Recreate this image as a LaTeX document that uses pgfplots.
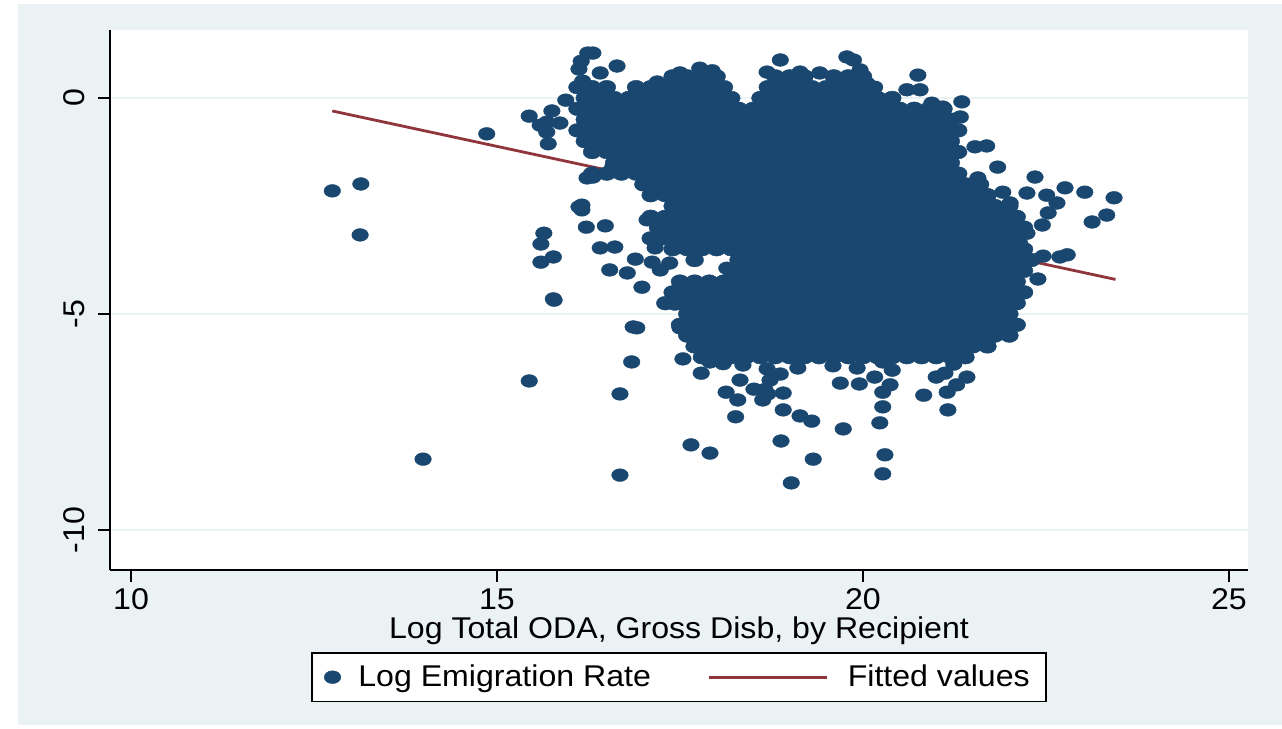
\documentclass[border=0pt]{standalone}
\usepackage{pgfplots}
\pgfplotsset{compat=1.18}
\usepackage{fontspec}
\setmainfont{Liberation Sans}[FakeStretch=1.07]
\definecolor{bgc}{HTML}{EAF2F3}
\definecolor{stnavy}{HTML}{1A476F}
\definecolor{stmaroon}{HTML}{90353B}
\pgfplotsset{
  dotleg/.style={legend image code/.code={\draw[##1] plot coordinates {(0pt,0pt)};}},
  lineleg/.style={legend image code/.code={\draw[##1] (0pt,0pt) -- (59pt,0pt);}},
  stdot/.style={only marks, mark=*, color=stnavy, mark size=3.2pt, mark options={xscale=1.3, fill=stnavy, draw=stnavy, line width=0.2pt}},
  stcore/.style={only marks, mark=*, color=stnavy, mark size=3.45pt, mark options={xscale=1.3, fill=stnavy, draw=stnavy, line width=0.2pt}},
}
\begin{document}
\begin{tikzpicture}
\path (0,0) rectangle (641pt,364.5pt);
\fill[bgc] (9pt,2pt) rectangle (641pt,362.5pt);
\begin{axis}[
 at={(55pt,79.5pt)}, anchor=south west,
 scale only axis, width=569pt, height=270pt,
 xmin=9.713, xmax=25.26, ymin=-10.926, ymax=1.574,
 axis background/.style={fill=white},
 axis x line*=bottom, axis y line*=left,
 axis line style={line width=0.75pt, black},
 xtick={10,15,20,25}, ytick={-10,-5,0},
 tick align=outside, major tick length=6pt,
 tick style={line width=0.75pt, black},
 ymajorgrids, major grid style={line width=1pt, color=bgc},
 /pgf/number format/assume math mode=true,
 tick label style={font=\fontsize{15}{18}\selectfont},
 xticklabel style={anchor=north, inner sep=0pt},
 xticklabel shift=3pt,
 yticklabel style={rotate=90, anchor=south, inner sep=0pt},
 yticklabel shift=6.5pt,
 xlabel={Log Total ODA, Gross Disb, by Recipient},
 xlabel style={font=\fontsize{15}{18}\selectfont, at={(axis description cs:0.5,-0.1275)}, anchor=base, inner sep=0pt},
 legend style={at={(axis description cs:0.5,-0.152)}, anchor=north, draw=black, line width=0.75pt, fill=white,
   font=\fontsize{15}{18}\selectfont, inner xsep=6pt, inner ysep=4pt,
   nodes={inner sep=2pt},
   /tikz/column 1/.style={column sep=6.75pt},
   /tikz/column 2/.style={column sep=26.5pt},
   /tikz/column 3/.style={column sep=7.5pt}},
 legend columns=2, legend cell align=left,
]
% dense core of the cloud
\addplot[stcore, forget plot] coordinates {
(17.4,0.5)(17.6,0.5)(17.8,0.5)(18.0,0.5)(18.8,0.5)(19.0,0.5)(19.2,0.5)(19.6,0.5)(19.8,0.5)(20.0,0.5)
(16.1,0.25)(16.3,0.25)(16.5,0.25)(16.9,0.25)(17.1,0.25)(17.3,0.25)(17.5,0.25)(17.7,0.25)(17.9,0.25)(18.1,0.25)(18.7,0.25)(18.9,0.25)(19.1,0.25)(19.3,0.25)(19.5,0.25)(19.7,0.25)(19.9,0.25)(20.1,0.25)
(16.2,0)(16.4,0)(16.6,0)(16.8,0)(17.0,0)(17.2,0)(17.4,0)(17.6,0)(17.8,0)(18.0,0)(18.2,0)(18.6,0)(18.8,0)(19.0,0)(19.2,0)(19.4,0)(19.6,0)(19.8,0)(20.0,0)(20.2,0)(20.4,0)
(16.1,-0.25)(16.3,-0.25)(16.5,-0.25)(16.7,-0.25)(16.9,-0.25)(17.1,-0.25)(17.3,-0.25)(17.5,-0.25)(17.7,-0.25)(17.9,-0.25)(18.1,-0.25)(18.3,-0.25)(18.5,-0.25)(18.7,-0.25)(18.9,-0.25)(19.1,-0.25)(19.3,-0.25)(19.5,-0.25)(19.7,-0.25)(19.9,-0.25)(20.1,-0.25)(20.3,-0.25)(20.5,-0.25)(20.7,-0.25)(20.9,-0.25)(21.1,-0.25)
(16.2,-0.5)(16.4,-0.5)(16.6,-0.5)(16.8,-0.5)(17.0,-0.5)(17.2,-0.5)(17.4,-0.5)(17.6,-0.5)(17.8,-0.5)(18.0,-0.5)(18.2,-0.5)(18.4,-0.5)(18.6,-0.5)(18.8,-0.5)(19.0,-0.5)(19.2,-0.5)(19.4,-0.5)(19.6,-0.5)(19.8,-0.5)(20.0,-0.5)(20.2,-0.5)(20.4,-0.5)(20.6,-0.5)(20.8,-0.5)(21.0,-0.5)(21.2,-0.5)
(16.1,-0.75)(16.3,-0.75)(16.5,-0.75)(16.7,-0.75)(16.9,-0.75)(17.1,-0.75)(17.3,-0.75)(17.5,-0.75)(17.7,-0.75)(17.9,-0.75)(18.1,-0.75)(18.3,-0.75)(18.5,-0.75)(18.7,-0.75)(18.9,-0.75)(19.1,-0.75)(19.3,-0.75)(19.5,-0.75)(19.7,-0.75)(19.9,-0.75)(20.1,-0.75)(20.3,-0.75)(20.5,-0.75)(20.7,-0.75)(20.9,-0.75)(21.1,-0.75)(21.3,-0.75)
(16.2,-1)(16.4,-1)(16.6,-1)(16.8,-1)(17.0,-1)(17.2,-1)(17.4,-1)(17.6,-1)(17.8,-1)(18.0,-1)(18.2,-1)(18.4,-1)(18.6,-1)(18.8,-1)(19.0,-1)(19.2,-1)(19.4,-1)(19.6,-1)(19.8,-1)(20.0,-1)(20.2,-1)(20.4,-1)(20.6,-1)(20.8,-1)(21.0,-1)(21.2,-1)
(16.3,-1.25)(16.5,-1.25)(16.7,-1.25)(16.9,-1.25)(17.1,-1.25)(17.3,-1.25)(17.5,-1.25)(17.7,-1.25)(17.9,-1.25)(18.1,-1.25)(18.3,-1.25)(18.5,-1.25)(18.7,-1.25)(18.9,-1.25)(19.1,-1.25)(19.3,-1.25)(19.5,-1.25)(19.7,-1.25)(19.9,-1.25)(20.1,-1.25)(20.3,-1.25)(20.5,-1.25)(20.7,-1.25)(20.9,-1.25)(21.1,-1.25)(21.3,-1.25)
(16.6,-1.5)(16.8,-1.5)(17.0,-1.5)(17.2,-1.5)(17.4,-1.5)(17.6,-1.5)(17.8,-1.5)(18.0,-1.5)(18.2,-1.5)(18.4,-1.5)(18.6,-1.5)(18.8,-1.5)(19.0,-1.5)(19.2,-1.5)(19.4,-1.5)(19.6,-1.5)(19.8,-1.5)(20.0,-1.5)(20.2,-1.5)(20.4,-1.5)(20.6,-1.5)(20.8,-1.5)(21.0,-1.5)(21.2,-1.5)
(16.3,-1.75)(16.5,-1.75)(16.7,-1.75)(16.9,-1.75)(17.1,-1.75)(17.3,-1.75)(17.5,-1.75)(17.7,-1.75)(17.9,-1.75)(18.1,-1.75)(18.3,-1.75)(18.5,-1.75)(18.7,-1.75)(18.9,-1.75)(19.1,-1.75)(19.3,-1.75)(19.5,-1.75)(19.7,-1.75)(19.9,-1.75)(20.1,-1.75)(20.3,-1.75)(20.5,-1.75)(20.7,-1.75)(20.9,-1.75)(21.1,-1.75)(21.3,-1.75)
(17.0,-2)(17.2,-2)(17.4,-2)(17.6,-2)(17.8,-2)(18.0,-2)(18.2,-2)(18.4,-2)(18.6,-2)(18.8,-2)(19.0,-2)(19.2,-2)(19.4,-2)(19.6,-2)(19.8,-2)(20.0,-2)(20.2,-2)(20.4,-2)(20.6,-2)(20.8,-2)(21.0,-2)(21.2,-2)(21.4,-2)(21.6,-2)
(17.1,-2.25)(17.3,-2.25)(17.5,-2.25)(17.7,-2.25)(17.9,-2.25)(18.1,-2.25)(18.3,-2.25)(18.5,-2.25)(18.7,-2.25)(18.9,-2.25)(19.1,-2.25)(19.3,-2.25)(19.5,-2.25)(19.7,-2.25)(19.9,-2.25)(20.1,-2.25)(20.3,-2.25)(20.5,-2.25)(20.7,-2.25)(20.9,-2.25)(21.1,-2.25)(21.3,-2.25)(21.5,-2.25)(21.7,-2.25)
(17.4,-2.5)(17.6,-2.5)(17.8,-2.5)(18.0,-2.5)(18.2,-2.5)(18.4,-2.5)(18.6,-2.5)(18.8,-2.5)(19.0,-2.5)(19.2,-2.5)(19.4,-2.5)(19.6,-2.5)(19.8,-2.5)(20.0,-2.5)(20.2,-2.5)(20.4,-2.5)(20.6,-2.5)(20.8,-2.5)(21.0,-2.5)(21.2,-2.5)(21.4,-2.5)(21.6,-2.5)(21.8,-2.5)(22.0,-2.5)
(17.1,-2.75)(17.3,-2.75)(17.5,-2.75)(17.7,-2.75)(17.9,-2.75)(18.1,-2.75)(18.3,-2.75)(18.5,-2.75)(18.7,-2.75)(18.9,-2.75)(19.1,-2.75)(19.3,-2.75)(19.5,-2.75)(19.7,-2.75)(19.9,-2.75)(20.1,-2.75)(20.3,-2.75)(20.5,-2.75)(20.7,-2.75)(20.9,-2.75)(21.1,-2.75)(21.3,-2.75)(21.5,-2.75)(21.7,-2.75)(21.9,-2.75)(22.1,-2.75)
(17.2,-3)(17.4,-3)(17.6,-3)(17.8,-3)(18.0,-3)(18.2,-3)(18.4,-3)(18.6,-3)(18.8,-3)(19.0,-3)(19.2,-3)(19.4,-3)(19.6,-3)(19.8,-3)(20.0,-3)(20.2,-3)(20.4,-3)(20.6,-3)(20.8,-3)(21.0,-3)(21.2,-3)(21.4,-3)(21.6,-3)(21.8,-3)(22.0,-3)(22.2,-3)
(17.1,-3.25)(17.3,-3.25)(17.5,-3.25)(17.7,-3.25)(17.9,-3.25)(18.1,-3.25)(18.3,-3.25)(18.5,-3.25)(18.7,-3.25)(18.9,-3.25)(19.1,-3.25)(19.3,-3.25)(19.5,-3.25)(19.7,-3.25)(19.9,-3.25)(20.1,-3.25)(20.3,-3.25)(20.5,-3.25)(20.7,-3.25)(20.9,-3.25)(21.1,-3.25)(21.3,-3.25)(21.5,-3.25)(21.7,-3.25)(21.9,-3.25)(22.1,-3.25)
(17.4,-3.5)(17.6,-3.5)(17.8,-3.5)(18.0,-3.5)(18.2,-3.5)(18.4,-3.5)(18.6,-3.5)(18.8,-3.5)(19.0,-3.5)(19.2,-3.5)(19.4,-3.5)(19.6,-3.5)(19.8,-3.5)(20.0,-3.5)(20.2,-3.5)(20.4,-3.5)(20.6,-3.5)(20.8,-3.5)(21.0,-3.5)(21.2,-3.5)(21.4,-3.5)(21.6,-3.5)(21.8,-3.5)(22.0,-3.5)(22.2,-3.5)
(17.7,-3.75)(18.3,-3.75)(18.5,-3.75)(18.7,-3.75)(18.9,-3.75)(19.1,-3.75)(19.3,-3.75)(19.5,-3.75)(19.7,-3.75)(19.9,-3.75)(20.1,-3.75)(20.3,-3.75)(20.5,-3.75)(20.7,-3.75)(20.9,-3.75)(21.1,-3.75)(21.3,-3.75)(21.5,-3.75)(21.7,-3.75)(21.9,-3.75)(22.1,-3.75)(22.3,-3.75)
(18.2,-4)(18.4,-4)(18.6,-4)(18.8,-4)(19.0,-4)(19.2,-4)(19.4,-4)(19.6,-4)(19.8,-4)(20.0,-4)(20.2,-4)(20.4,-4)(20.6,-4)(20.8,-4)(21.0,-4)(21.2,-4)(21.4,-4)(21.6,-4)(21.8,-4)(22.0,-4)(22.2,-4)
(17.5,-4.25)(17.7,-4.25)(17.9,-4.25)(18.1,-4.25)(18.3,-4.25)(18.5,-4.25)(18.7,-4.25)(18.9,-4.25)(19.1,-4.25)(19.3,-4.25)(19.5,-4.25)(19.7,-4.25)(19.9,-4.25)(20.1,-4.25)(20.3,-4.25)(20.5,-4.25)(20.7,-4.25)(20.9,-4.25)(21.1,-4.25)(21.3,-4.25)(21.5,-4.25)(21.7,-4.25)(21.9,-4.25)(22.1,-4.25)
(17.4,-4.5)(17.6,-4.5)(17.8,-4.5)(18.0,-4.5)(18.2,-4.5)(18.4,-4.5)(18.6,-4.5)(18.8,-4.5)(19.0,-4.5)(19.2,-4.5)(19.4,-4.5)(19.6,-4.5)(19.8,-4.5)(20.0,-4.5)(20.2,-4.5)(20.4,-4.5)(20.6,-4.5)(20.8,-4.5)(21.0,-4.5)(21.2,-4.5)(21.4,-4.5)(21.6,-4.5)(21.8,-4.5)(22.0,-4.5)(22.2,-4.5)
(17.3,-4.75)(17.5,-4.75)(17.7,-4.75)(17.9,-4.75)(18.1,-4.75)(18.3,-4.75)(18.5,-4.75)(18.7,-4.75)(18.9,-4.75)(19.1,-4.75)(19.3,-4.75)(19.5,-4.75)(19.7,-4.75)(19.9,-4.75)(20.1,-4.75)(20.3,-4.75)(20.5,-4.75)(20.7,-4.75)(20.9,-4.75)(21.1,-4.75)(21.3,-4.75)(21.5,-4.75)(21.7,-4.75)(21.9,-4.75)(22.1,-4.75)
(17.6,-5)(17.8,-5)(18.0,-5)(18.2,-5)(18.4,-5)(18.6,-5)(18.8,-5)(19.0,-5)(19.2,-5)(19.4,-5)(19.6,-5)(19.8,-5)(20.0,-5)(20.2,-5)(20.4,-5)(20.6,-5)(20.8,-5)(21.0,-5)(21.2,-5)(21.4,-5)(21.6,-5)(21.8,-5)(22.0,-5)
(17.5,-5.25)(17.7,-5.25)(17.9,-5.25)(18.1,-5.25)(18.3,-5.25)(18.5,-5.25)(18.7,-5.25)(18.9,-5.25)(19.1,-5.25)(19.3,-5.25)(19.5,-5.25)(19.7,-5.25)(19.9,-5.25)(20.1,-5.25)(20.3,-5.25)(20.5,-5.25)(20.7,-5.25)(20.9,-5.25)(21.1,-5.25)(21.3,-5.25)(21.5,-5.25)(21.7,-5.25)(21.9,-5.25)(22.1,-5.25)
(17.6,-5.5)(17.8,-5.5)(18.0,-5.5)(18.2,-5.5)(18.4,-5.5)(18.6,-5.5)(18.8,-5.5)(19.0,-5.5)(19.2,-5.5)(19.4,-5.5)(19.6,-5.5)(19.8,-5.5)(20.0,-5.5)(20.2,-5.5)(20.4,-5.5)(20.6,-5.5)(20.8,-5.5)(21.0,-5.5)(21.2,-5.5)(21.4,-5.5)(21.6,-5.5)(21.8,-5.5)(22.0,-5.5)
(17.7,-5.75)(17.9,-5.75)(18.1,-5.75)(18.3,-5.75)(18.5,-5.75)(18.7,-5.75)(18.9,-5.75)(19.1,-5.75)(19.3,-5.75)(19.5,-5.75)(19.7,-5.75)(19.9,-5.75)(20.1,-5.75)(20.3,-5.75)(20.5,-5.75)(20.7,-5.75)(20.9,-5.75)(21.1,-5.75)(21.3,-5.75)(21.5,-5.75)(21.7,-5.75)
(17.8,-6)(18.0,-6)(18.2,-6)(18.4,-6)(18.6,-6)(18.8,-6)(19.0,-6)(19.2,-6)(19.4,-6)(19.6,-6)(19.8,-6)(20.0,-6)(20.2,-6)(20.4,-6)(20.6,-6)(20.8,-6)(21.0,-6)(21.2,-6)(21.4,-6)
};
% scattered points around the core
\addplot[stdot, dotleg] coordinates {
(12.75,-2.15)(13.14,-1.99)(13.13,-3.17)(13.99,-8.36)(14.86,-0.83)
(15.44,-0.42)(15.75,-0.30)(15.94,-0.05)(15.68,-0.56)(15.86,-0.58)(15.59,-0.63)(15.68,-0.79)(15.70,-1.06)
(16.12,0.67)(16.17,0.39)(16.24,1.04)(16.31,1.04)(16.15,0.85)(16.41,0.58)(16.64,0.74)
(17.19,0.37)(17.50,0.58)(17.77,0.69)(17.94,0.63)(18.69,0.60)(18.87,0.88)(19.14,0.60)(19.41,0.58)(19.64,0.42)(19.78,0.95)(19.87,0.88)(19.96,0.65)(20.05,0.35)(20.16,0.25)(20.60,0.19)(20.78,0.19)(20.75,0.53)
(20.94,-0.12)(21.09,-0.21)(21.35,-0.09)(21.33,-0.44)
(21.53,-1.13)(21.69,-1.11)(21.84,-1.60)(21.57,-1.85)(22.35,-1.83)(22.76,-2.08)(23.03,-2.18)(23.43,-2.31)(22.51,-2.25)(22.65,-2.43)(22.24,-2.20)(21.91,-2.18)(21.71,-2.25)(22.01,-2.43)(23.33,-2.71)(23.13,-2.87)(22.53,-2.66)(22.45,-2.94)(22.24,-3.13)(22.46,-3.66)(22.69,-3.68)(22.79,-3.63)(22.39,-4.19)(22.14,-3.36)
(16.23,-1.85)(16.12,-2.52)(16.16,-2.59)(16.22,-2.99)(16.48,-2.96)(15.64,-3.13)(15.60,-3.38)(15.60,-3.80)(15.77,-3.68)(15.78,-4.68)(16.41,-3.47)(16.61,-3.45)(16.54,-3.98)(16.89,-3.73)(16.78,-4.05)(16.98,-4.38)(17.12,-3.80)(17.23,-3.98)(17.36,-3.82)(17.05,-2.82)(17.20,-3.26)(17.16,-3.47)(16.91,-5.32)(16.84,-6.11)(17.54,-6.04)(17.47,-4.47)(17.43,-4.77)(17.50,-5.32)(18.14,-3.94)(16.31,-1.83)(16.58,-1.60)(16.16,-2.48)
(15.44,-6.55)(15.77,-4.65)(16.86,-5.30)(16.68,-6.85)(16.68,-8.73)(17.65,-8.03)(17.91,-8.22)
(17.79,-6.37)(18.32,-6.53)(18.13,-6.81)(18.51,-6.74)(18.29,-6.99)(18.63,-6.99)(18.91,-6.83)(18.91,-7.22)(18.26,-7.38)(19.14,-7.36)(19.30,-7.48)(19.73,-7.66)(18.88,-7.94)(19.32,-8.36)(19.02,-8.91)(19.11,-6.25)(19.59,-6.20)(19.92,-6.25)(19.69,-6.60)(19.95,-6.62)(18.73,-6.53)(20.27,-6.11)(20.40,-6.30)(20.16,-6.46)(20.37,-6.64)(20.27,-6.81)(20.27,-7.15)(20.23,-7.52)(20.30,-8.26)(20.27,-8.70)(20.83,-6.88)(21.00,-6.46)(21.12,-6.37)(21.24,-6.16)(21.42,-6.46)(21.28,-6.64)(21.15,-6.81)(21.16,-7.22)
(17.91,-6.11)(18.09,-6.15)(18.36,-6.18)(18.69,-6.27)(18.87,-6.39)(18.66,-6.75)(18.70,-6.85)
};
\addlegendentry{Log Emigration Rate}
\addplot[stmaroon, line width=1.4pt, no marks, lineleg] coordinates {(12.75,-0.30) (23.45,-4.20)};
\addlegendentry{Fitted values}
\end{axis}
\end{tikzpicture}
\end{document}
